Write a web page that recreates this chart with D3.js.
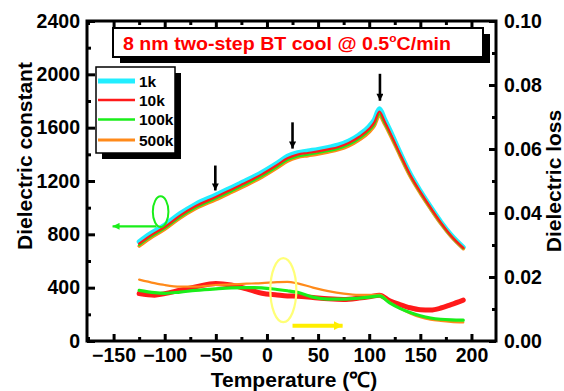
<!DOCTYPE html>
<html>
<head>
<meta charset="utf-8">
<script src="https://cdn.jsdelivr.net/npm/d3@7"></script>
<style>
  html, body { margin: 0; padding: 0; background: #fff; }
  svg { display: block; }
  text { font-family: "Liberation Sans", Arial, Helvetica, sans-serif; font-weight: bold; }
</style>
</head>
<body>
<svg id="chart" width="564" height="391"></svg>
<script>
// Temperature grid (°C) for the dielectric constant curves
const temps = [-125,-115,-100,-85,-70,-50,-35,-20,-5,10,20,30,40,50,60,70,80,90,100,105,110,115,120,130,140,150,160,170,180,192];
// Dielectric constant at each frequency
const eps1k   = [745,800,870,955,1025,1095,1150,1205,1265,1335,1385,1412,1425,1437,1452,1470,1500,1545,1610,1660,1742,1665,1585,1415,1255,1125,1005,893,795,702];
const eps10k  = [730,785,855,940,1010,1080,1135,1190,1250,1320,1370,1398,1410,1422,1437,1455,1485,1530,1592,1640,1720,1648,1570,1405,1247,1118,1000,888,790,698];
const eps100k = [720,775,845,930,1000,1068,1122,1177,1237,1307,1357,1385,1398,1410,1425,1443,1472,1517,1578,1625,1702,1635,1560,1398,1241,1113,996,885,787,695];
const eps500k = [712,767,837,922,992,1060,1114,1169,1229,1299,1349,1377,1390,1402,1417,1435,1463,1507,1567,1614,1692,1628,1553,1392,1236,1108,992,881,784,692];

// Temperature grid (°C) for the dielectric loss curves
const lossTemps = [-125,-110,-100,-85,-70,-50,-35,-20,-5,10,20,30,45,60,75,90,100,110,120,130,140,150,160,170,180,192];
const loss10k  = [0.0148,0.0143,0.0148,0.0159,0.0169,0.0180,0.0175,0.0163,0.0149,0.0144,0.0141,0.0140,0.0136,0.0132,0.0130,0.0134,0.0138,0.0143,0.0126,0.0114,0.0104,0.0098,0.0097,0.0103,0.0114,0.0128];
const loss100k = [0.0158,0.0151,0.0149,0.0153,0.0158,0.0163,0.0166,0.0167,0.0166,0.0161,0.0157,0.0152,0.0137,0.0131,0.0131,0.0134,0.0137,0.0141,0.0119,0.0102,0.0089,0.0079,0.0072,0.0068,0.0066,0.0065];
const loss500k = [0.0192,0.0181,0.0175,0.0170,0.0170,0.0175,0.0177,0.0179,0.0181,0.0184,0.0185,0.0180,0.0167,0.0156,0.0148,0.0144,0.0144,0.0145,0.0121,0.0102,0.0086,0.0074,0.0067,0.0063,0.0060,0.0058];

// Axis ticks
const xMajor = [-150,-100,-50,0,50,100,150,200];
const xMinor = [-175,-125,-75,-25,25,75,125,175];
const yLeftMajor = [0,400,800,1200,1600,2000,2400];
const yLeftMinor = [200,600,1000,1400,1800,2200];
const yRightMajor = [0,0.02,0.04,0.06,0.08,0.10];
const yRightMinor = [0.01,0.03,0.05,0.07,0.09];

// Legend entries
const legendLabels = ["1k","10k","100k","500k"];
const legendColors = ["#22eeff","#ff1a1a","#1aee1a","#ff8a1a"];

const titleMain = "8 nm two-step BT cool @ 0.5";
const titleSup = "o";
const titleEnd = "C/min";

// Down arrows marking transitions: [temperature, from value, to value]
const markerArrows = [[-50.5,1316,1129],[25,1640,1443],[110.5,2004,1802]];

const svg = d3.select("#chart");
const padL = 87, padR = 496, padT = 21, padB = 341;

const x = d3.scaleLinear().domain([-176, 224]).range([padL, padR]);
const yL = d3.scaleLinear().domain([0, 2400]).range([padB, padT]);
const yR = d3.scaleLinear().domain([0, 0.10]).range([padB, padT]);

const defs = svg.append("defs");
function marker(id, color, w, h) {
  defs.append("marker").attr("id", id)
    .attr("viewBox", "0 0 10 10").attr("refX", 10).attr("refY", 5)
    .attr("markerUnits", "userSpaceOnUse")
    .attr("markerWidth", w).attr("markerHeight", h)
    .attr("orient", "auto")
    .append("path").attr("d", "M0,0L10,5L0,10Z").attr("fill", color);
}
marker("headBlack", "#000", 12, 7);
marker("headGreen", "#1aee1a", 8, 7);
marker("headYellow", "#ffee00", 9, 9);

// ---- Axes ----
function styleAxis(g, w) {
  g.select(".domain").remove();
  g.selectAll(".tick line").attr("stroke", "#000").attr("stroke-width", w);
  g.selectAll(".tick text").attr("font-size", "19.5px").attr("fill", "#000")
    .attr("font-family", "'Liberation Sans', Arial, sans-serif").attr("font-weight", "bold");
}

const gx = svg.append("g").attr("transform", `translate(0,${padB})`)
  .call(d3.axisBottom(x).tickValues(xMajor).tickSize(-7).tickSizeOuter(0).tickPadding(7).tickFormat(d3.format("d")));
styleAxis(gx, 3);
svg.append("g").attr("transform", `translate(0,${padB})`)
  .call(d3.axisBottom(x).tickValues(xMinor).tickSize(-4).tickSizeOuter(0).tickFormat(""))
  .call(g => styleAxis(g, 3));
svg.append("g").attr("transform", `translate(0,${padT})`)
  .call(d3.axisTop(x).tickValues(xMajor).tickSize(-7).tickSizeOuter(0).tickFormat(""))
  .call(g => styleAxis(g, 3));
svg.append("g").attr("transform", `translate(0,${padT})`)
  .call(d3.axisTop(x).tickValues(xMinor).tickSize(-4).tickSizeOuter(0).tickFormat(""))
  .call(g => styleAxis(g, 3));

const gyl = svg.append("g").attr("transform", `translate(${padL},0)`)
  .call(d3.axisLeft(yL).tickValues(yLeftMajor).tickSize(-8).tickSizeOuter(0).tickPadding(7).tickFormat(d3.format("d")));
styleAxis(gyl, 3);
svg.append("g").attr("transform", `translate(${padL},0)`)
  .call(d3.axisLeft(yL).tickValues(yLeftMinor).tickSize(-4).tickSizeOuter(0).tickFormat(""))
  .call(g => styleAxis(g, 3));

const gyr = svg.append("g").attr("transform", `translate(${padR},0)`)
  .call(d3.axisRight(yR).tickValues(yRightMajor).tickSize(-7).tickSizeOuter(0).tickPadding(8).tickFormat(d3.format(".2f")));
styleAxis(gyr, 3);
svg.append("g").attr("transform", `translate(${padR},0)`)
  .call(d3.axisRight(yR).tickValues(yRightMinor).tickSize(-4).tickSizeOuter(0).tickFormat(""))
  .call(g => styleAxis(g, 3));

// Frame
svg.append("rect").attr("x", padL).attr("y", padT)
  .attr("width", padR - padL).attr("height", padB - padT)
  .attr("fill", "none").attr("stroke", "#000").attr("stroke-width", 3);

// ---- Curves ----
const epsLine = d3.line().x((d, i) => x(temps[i])).y(d => yL(d)).curve(d3.curveMonotoneX);
const lossLine = d3.line().x((d, i) => x(lossTemps[i])).y(d => yR(d)).curve(d3.curveMonotoneX);

const plot = svg.append("g").attr("fill", "none").attr("stroke-linejoin", "round").attr("stroke-linecap", "round");

plot.append("path").attr("d", lossLine(loss10k)).attr("stroke", legendColors[1]).attr("stroke-width", 5);
plot.append("path").attr("d", lossLine(loss500k)).attr("stroke", legendColors[3]).attr("stroke-width", 2.2);
plot.append("path").attr("d", lossLine(loss100k)).attr("stroke", legendColors[2]).attr("stroke-width", 3.2);

plot.append("path").attr("d", epsLine(eps1k)).attr("stroke", legendColors[0]).attr("stroke-width", 5);
plot.append("path").attr("d", epsLine(eps500k)).attr("stroke", legendColors[3]).attr("stroke-width", 3.5);
plot.append("path").attr("d", epsLine(eps100k)).attr("stroke", legendColors[2]).attr("stroke-width", 2.2);
plot.append("path").attr("d", epsLine(eps10k)).attr("stroke", legendColors[1]).attr("stroke-width", 2.2);

// Transition arrows
svg.append("g").selectAll("line").data(markerArrows).join("line")
  .attr("x1", d => x(d[0])).attr("x2", d => x(d[0]))
  .attr("y1", d => yL(d[1])).attr("y2", d => yL(d[2]))
  .attr("stroke", "#000").attr("stroke-width", 2.6)
  .attr("marker-end", "url(#headBlack)");

// Green ellipse with arrow pointing to the left axis
svg.append("ellipse").attr("cx", x(-104)).attr("cy", yL(970)).attr("rx", 7.8).attr("ry", 15.3)
  .attr("fill", "none").attr("stroke", "#1aee1a").attr("stroke-width", 2);
svg.append("line").attr("x1", x(-108)).attr("x2", x(-151))
  .attr("y1", yL(860)).attr("y2", yL(860))
  .attr("stroke", "#1aee1a").attr("stroke-width", 2.2).attr("marker-end", "url(#headGreen)");

// Yellow ellipse with arrow pointing to the right axis
svg.append("ellipse").attr("cx", x(16)).attr("cy", yR(0.0159)).attr("rx", 13).attr("ry", 32)
  .attr("fill", "none").attr("stroke", "#ffff77").attr("stroke-width", 2.2);
svg.append("line").attr("x1", x(25)).attr("x2", x(74))
  .attr("y1", yR(0.0048)).attr("y2", yR(0.0048))
  .attr("stroke", "#ffee00").attr("stroke-width", 4).attr("marker-end", "url(#headYellow)");

// ---- Title box ----
svg.append("rect").attr("x", 120).attr("y", 34).attr("width", 370).attr("height", 29).attr("fill", "#000");
svg.append("rect").attr("x", 113).attr("y", 28).attr("width", 370).attr("height", 29)
  .attr("fill", "#fff").attr("stroke", "#000").attr("stroke-width", 2);
const title = svg.append("text").attr("x", 123).attr("y", 49.5)
  .attr("font-size", "18px").attr("fill", "#ff0000")
  .attr("textLength", 328).attr("lengthAdjust", "spacingAndGlyphs");
title.append("tspan").text(titleMain);
title.append("tspan").attr("font-size", "11px").attr("dy", -8).text(titleSup);
title.append("tspan").attr("dy", 8).text(titleEnd);

// ---- Legend ----
svg.append("rect").attr("x", 102).attr("y", 73).attr("width", 79).attr("height", 86).attr("fill", "#000");
svg.append("rect").attr("x", 96).attr("y", 67).attr("width", 79).attr("height", 86)
  .attr("fill", "#fff").attr("stroke", "#000").attr("stroke-width", 1.5);
const legendY = [81, 100, 119.5, 140];
const legendW = [5, 2.5, 2.5, 3];
const lg = svg.append("g");
legendLabels.forEach((lab, i) => {
  lg.append("line").attr("x1", 98).attr("x2", 135).attr("y1", legendY[i]).attr("y2", legendY[i])
    .attr("stroke", legendColors[i]).attr("stroke-width", legendW[i]);
  lg.append("text").attr("x", 139).attr("y", legendY[i] + 5.5).attr("font-size", "15.5px").text(lab);
});

// ---- Axis titles ----
svg.append("text").attr("transform", "translate(32,156) rotate(-90)")
  .attr("text-anchor", "middle").attr("font-size", "21px").text("Dielectric constant");
svg.append("text").attr("transform", "translate(561,181) rotate(-90)")
  .attr("text-anchor", "middle").attr("font-size", "21px").text("Dielectric loss");
svg.append("text").attr("x", 294).attr("y", 387)
  .attr("text-anchor", "middle").attr("font-size", "21px").text("Temperature (℃)");
</script>
</body>
</html>
